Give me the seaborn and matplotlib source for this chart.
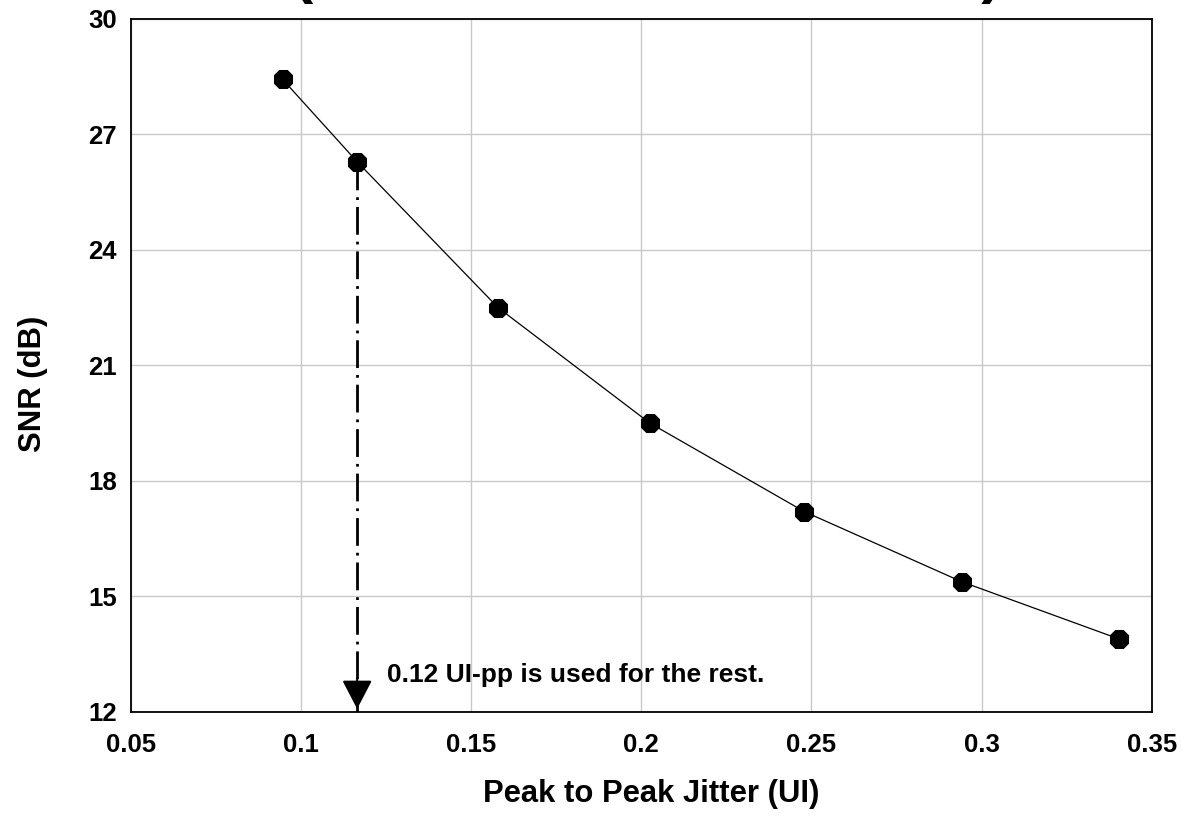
import numpy as np
import pandas as pd
import matplotlib
matplotlib.use("Agg")
import matplotlib.pyplot as plt
import seaborn as sns

# Measured SNR against peak-to-peak jitter
jitter_ui = [0.0946, 0.1165, 0.1579, 0.2025, 0.2479, 0.2941, 0.3404]
snr_db = [28.43, 26.29, 22.50, 19.50, 17.20, 15.38, 13.89]

x_ticks = [0.05, 0.10, 0.15, 0.20, 0.25, 0.30, 0.35]
x_tick_labels = ["0.05", "0.1", "0.15", "0.2", "0.25", "0.3", "0.35"]
y_ticks = [12, 15, 18, 21, 24, 27, 30]
y_tick_labels = ["12", "15", "18", "21", "24", "27", "30"]

title_text = "(SNR versus Total Jitter)"
x_label = "Peak to Peak Jitter (UI)"
y_label = "SNR (dB)"
note_text = "0.12 UI-pp is used for the rest."
chosen_index = 1  # operating point carried forward

df = pd.DataFrame({"jitter": jitter_ui, "snr": snr_db})

sns.set_theme(style="whitegrid")
plt.rcParams["font.family"] = ["Liberation Sans", "DejaVu Sans"]
plt.rcParams["font.weight"] = "bold"

fig = plt.figure(figsize=(11.82, 8.21), dpi=100)
fig.patch.set_facecolor("white")
ax = fig.add_axes([0.1107, 0.1331, 0.8637, 0.8438])
ax.set_facecolor("white")

sns.lineplot(data=df, x="jitter", y="snr", ax=ax, color="black",
             linewidth=0.9, marker="8", markersize=13.5,
             markeredgecolor="black", markerfacecolor="black")

ax.set_xlim(x_ticks[0], x_ticks[-1])
ax.set_ylim(y_ticks[0], y_ticks[-1])
ax.set_xticks(x_ticks)
ax.set_xticklabels(x_tick_labels)
ax.set_yticks(y_ticks)
ax.set_yticklabels(y_tick_labels)
ax.tick_params(axis="both", length=0, labelsize=18.5, colors="black")
ax.tick_params(axis="x", pad=15)
ax.tick_params(axis="y", pad=10)
for lab in ax.get_xticklabels() + ax.get_yticklabels():
    lab.set_fontweight("bold")

ax.grid(True, color="#c8c8c8", linewidth=1.0)
for sp in ax.spines.values():
    sp.set_visible(True)
    sp.set_color("black")
    sp.set_linewidth(1.3)

ax.set_xlabel(x_label, fontsize=22.3, fontweight="bold", color="black")
ax.set_ylabel(y_label, fontsize=22.3, fontweight="bold", color="black")
ax.xaxis.label.set_va("baseline")
ax.xaxis.set_label_coords(0.51, -0.1303)
ax.yaxis.set_label_coords(-0.081, 0.4738)

# dash-dot drop line from the chosen point to the x axis
x_sel = jitter_ui[chosen_index]
y_sel = snr_db[chosen_index]
ax.plot([x_sel, x_sel], [y_sel, y_ticks[0]], color="black", linewidth=2.0,
        linestyle=(0, (10, 2.5, 1, 2.5)), zorder=2)
ax.annotate("", xy=(x_sel, y_ticks[0]), xycoords="data",
            xytext=(0, 24), textcoords="offset points",
            arrowprops=dict(arrowstyle="-|>,head_length=1.5,head_width=0.78",
                            color="black", linewidth=1.5,
                            shrinkA=0, shrinkB=2.0),
            zorder=3)

ax.text(0.1253, 12.78, note_text, fontsize=19, fontweight="bold",
        color="black", ha="left", va="baseline")

fig.text(0.5474, 1.0105, title_text, fontsize=44, fontweight="bold",
         color="black", ha="center", va="baseline")

fig.savefig("out.png", dpi=100, facecolor="white")
